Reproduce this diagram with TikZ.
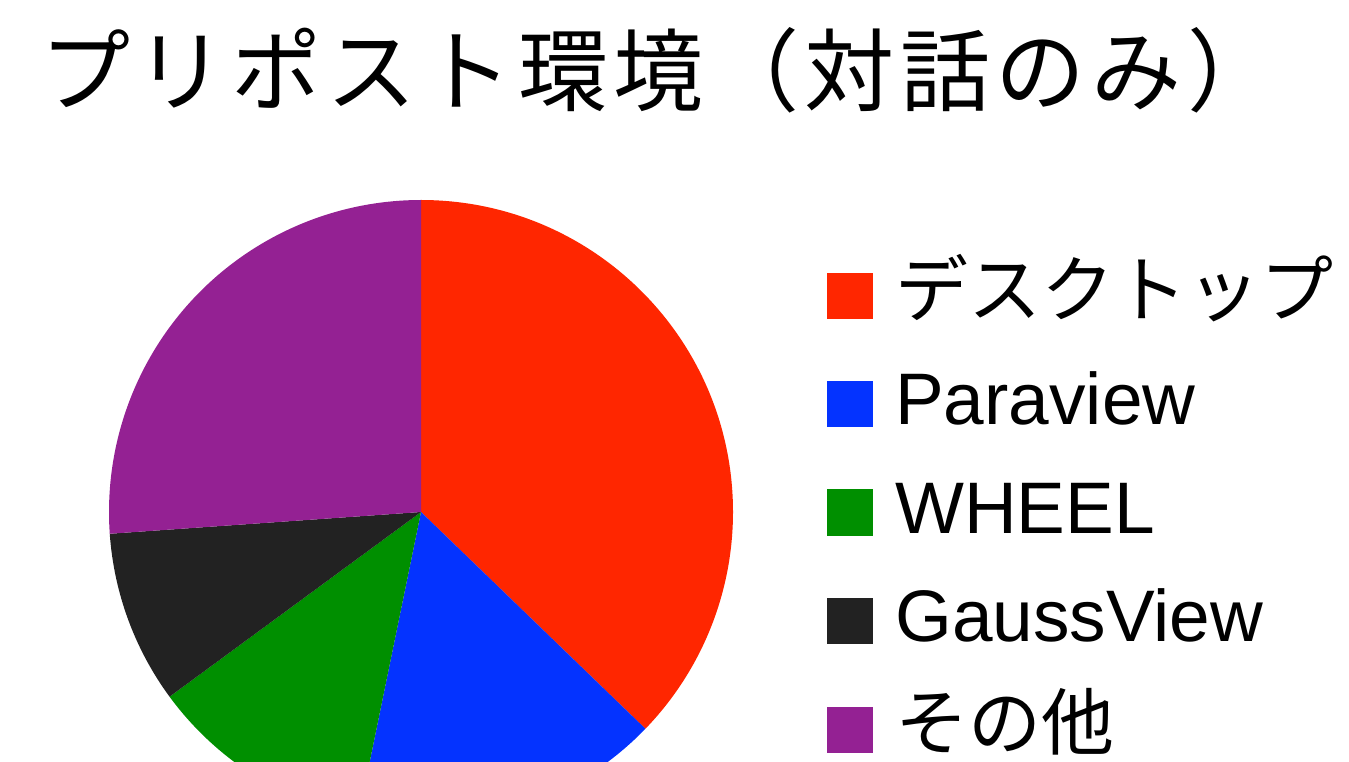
\documentclass[tikz,border=0pt]{standalone}
\usepackage{fontspec}
\setmainfont{Liberation Sans}
\newfontfamily\jp{Noto Sans CJK JP}
\newfontfamily\jptitle[LetterSpace=6.2]{Noto Sans CJK JP}
\definecolor{cRed}{HTML}{FF2600}
\definecolor{cBlue}{HTML}{0433FF}
\definecolor{cGreen}{HTML}{008F00}
\definecolor{cBlack}{HTML}{222222}
\definecolor{cPurple}{HTML}{942193}
\tikzset{
  legtext/.style={anchor=base west, inner sep=0pt, font=\fontsize{73}{73}\selectfont},
  legbox/.style={minimum size=46pt, inner sep=0pt, draw=none}
}
\begin{document}
\begin{tikzpicture}[x=1pt,y=1pt]
\clip (0,0) rectangle (1349,761);
\fill[white] (0,0) rectangle (1349,761);
% title
\node[anchor=base west, inner sep=0pt, font=\jptitle\fontsize{90}{90}\selectfont] (title) at (40,656) {プリポスト環境（対話のみ）};
% pie
\coordinate (c) at (421,249);
\def\R{312}
\fill[cRed]    (c) -- ++(90:\R)     arc[start angle=90,    end angle=-44,    radius=\R] -- cycle;
\fill[cBlue]   (c) -- ++(-44:\R)    arc[start angle=-44,   end angle=-101.6, radius=\R] -- cycle;
\fill[cGreen]  (c) -- ++(-101.6:\R) arc[start angle=-101.6,end angle=-143.7, radius=\R] -- cycle;
\fill[cBlack]  (c) -- ++(-143.7:\R) arc[start angle=-143.7,end angle=-176,   radius=\R] -- cycle;
\fill[cPurple] (c) -- ++(-176:\R)   arc[start angle=-176,  end angle=-270,   radius=\R] -- cycle;
% legend
\node[legbox, fill=cRed]    (b1) at (850,464.5) {};
\node[legbox, fill=cBlue]   (b2) at (850,356.5) {};
\node[legbox, fill=cGreen]  (b3) at (850,248.5) {};
\node[legbox, fill=cBlack]  (b4) at (850,140) {};
\node[legbox, fill=cPurple] (b5) at (850,31.5) {};
\node[legtext, font=\jp\fontsize{73}{73}\selectfont] (t1) at (895,444) {デスクトップ};
\node[legtext] (t2) at (895,336) {Paraview};
\node[legtext] (t3) at (895,228) {WHEEL};
\node[legtext] (t4) at (895,120) {GaussView};
\node[legtext, font=\jp\fontsize{73}{73}\selectfont] (t5) at (895,12) {その他};
\end{tikzpicture}
\end{document}
